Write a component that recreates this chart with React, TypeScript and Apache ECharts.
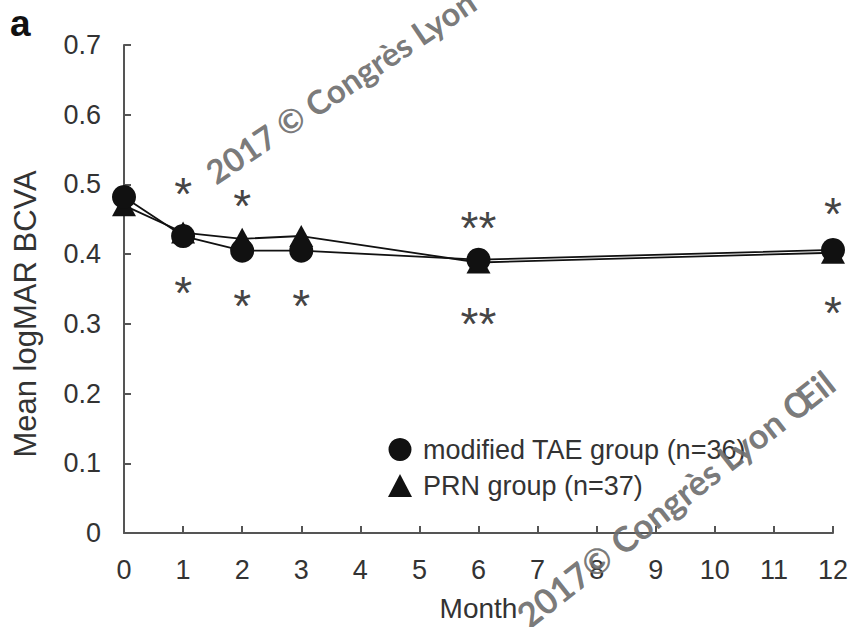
import React, { useEffect, useRef } from "react";
import * as echarts from "echarts";

const months = [0, 1, 2, 3, 6, 12];
const taeValues = [0.482, 0.426, 0.405, 0.405, 0.392, 0.406];
const prnValues = [0.47, 0.431, 0.422, 0.426, 0.388, 0.402];
const taeName = "modified TAE group (n=36)";
const prnName = "PRN group (n=37)";
const upperStars: [number, number, string][] = [
  [1, 0.502, "*"],
  [2, 0.485, "*"],
  [6, 0.453, "**"],
  [12, 0.474, "*"],
];
const lowerStars: [number, number, string][] = [
  [1, 0.36, "*"],
  [2, 0.342, "*"],
  [3, 0.342, "*"],
  [6, 0.315, "**"],
  [12, 0.332, "*"],
];
const xTicks = { min: 0, max: 12, interval: 1 };
const yTicks = { min: 0, max: 0.7, interval: 0.1 };
const yTitle = "Mean logMAR BCVA";
const xTitle = "Month";
const panelLabel = "a";
const watermark = "2017 © Congrès Lyon Œil";
const watermark2 = "2017© Congrès Lyon Œil";

const FONT = "'Liberation Sans', Arial, Helvetica, sans-serif";
const WM_FONT = "Lato, 'Open Sans', sans-serif";

export default function App() {
  const ref = useRef<HTMLDivElement>(null);
  useEffect(() => {
    if (!ref.current) return;
    const chart = echarts.init(ref.current, null, { renderer: "svg" });
    const starLabel = {
      show: true,
      position: "inside",
      formatter: (p: any) => p.data[2],
      fontSize: 46,
      fontFamily: FONT,
      color: "#111",
      offset: [0, 11],
    };
    chart.setOption({
      animation: false,
      backgroundColor: "#fff",
      textStyle: { fontFamily: FONT },
      grid: { left: 124, right: 19, top: 45, bottom: 87, containLabel: false },
      xAxis: {
        type: "value",
        min: xTicks.min,
        max: xTicks.max,
        interval: xTicks.interval,
        name: xTitle,
        nameLocation: "middle",
        nameGap: 61,
        nameTextStyle: { fontSize: 28, color: "#333", fontFamily: FONT },
        axisLine: { lineStyle: { color: "#555", width: 2 } },
        axisTick: { inside: true, length: 7, lineStyle: { color: "#555", width: 2 } },
        axisLabel: { fontSize: 27, color: "#333", margin: 23, fontFamily: FONT },
        splitLine: { show: false },
      },
      yAxis: {
        type: "value",
        min: yTicks.min,
        max: yTicks.max,
        interval: yTicks.interval,
        axisLine: { show: true, lineStyle: { color: "#555", width: 2 } },
        axisTick: { show: true, inside: true, length: 7, lineStyle: { color: "#555", width: 2 } },
        axisLabel: {
          fontSize: 27,
          color: "#333",
          margin: 23,
          fontFamily: FONT,
          formatter: (v: number) => (v === 0 ? "0" : v.toFixed(1)),
        },
        splitLine: { show: false },
      },
      legend: {
        data: [
          { name: taeName, icon: "circle" },
          { name: prnName, icon: "triangle" },
        ],
        orient: "vertical",
        left: 388,
        top: 436,
        padding: 0,
        itemWidth: 24,
        itemHeight: 23,
        itemGap: 9,
        textStyle: {
          fontSize: 27,
          lineHeight: 23,
          color: "#333",
          fontFamily: FONT,
          padding: [0, 0, 0, 6],
        },
      },
      series: [
        {
          name: prnName,
          type: "line",
          data: months.map((m, i) => [m, prnValues[i]]),
          symbol: "triangle",
          symbolSize: [24, 22],
          itemStyle: { color: "#111" },
          lineStyle: { color: "#111", width: 1.8 },
          z: 3,
        },
        {
          name: taeName,
          type: "line",
          data: months.map((m, i) => [m, taeValues[i]]),
          symbol: "circle",
          symbolSize: 24,
          itemStyle: { color: "#111" },
          lineStyle: { color: "#111", width: 1.8 },
          z: 4,
        },
        {
          name: "upper",
          type: "scatter",
          data: upperStars,
          symbolSize: 1,
          itemStyle: { color: "rgba(0,0,0,0)" },
          label: starLabel,
          z: 5,
        },
        {
          name: "lower",
          type: "scatter",
          data: lowerStars,
          symbolSize: 1,
          itemStyle: { color: "rgba(0,0,0,0)" },
          label: starLabel,
          z: 5,
        },
      ],
      graphic: [
        {
          type: "text",
          x: 25,
          y: 314,
          rotation: Math.PI / 2,
          style: {
            text: yTitle,
            fontSize: 31,
            fontFamily: FONT,
            fill: "#333",
            textAlign: "center",
            textVerticalAlign: "middle",
          },
        },
        {
          type: "text",
          x: 10,
          y: 42,
          style: {
            text: panelLabel,
            fontSize: 37,
            fontWeight: "bold",
            fontFamily: FONT,
            fill: "#111",
            textAlign: "left",
            textVerticalAlign: "bottom",
          },
        },
        {
          type: "text",
          x: 209,
          y: 175,
          rotation: (34 * Math.PI) / 180,
          z: 100,
          style: {
            text: watermark,
            fontSize: 33,
            fontWeight: "bold",
            fontFamily: WM_FONT,
            fill: "rgba(110,110,110,0.92)",
            textAlign: "left",
            textVerticalAlign: "middle",
          },
        },
        {
          type: "text",
          x: 521,
          y: 619,
          rotation: (38 * Math.PI) / 180,
          z: 100,
          style: {
            text: watermark2,
            fontSize: 35,
            fontWeight: "bold",
            fontFamily: WM_FONT,
            fill: "rgba(110,110,110,0.92)",
            textAlign: "left",
            textVerticalAlign: "middle",
          },
        },
      ],
    });
    return () => chart.dispose();
  }, []);
  return <div ref={ref} style={{ width: 852, height: 627, position: "absolute", left: 0, top: 0 }} />;
}
